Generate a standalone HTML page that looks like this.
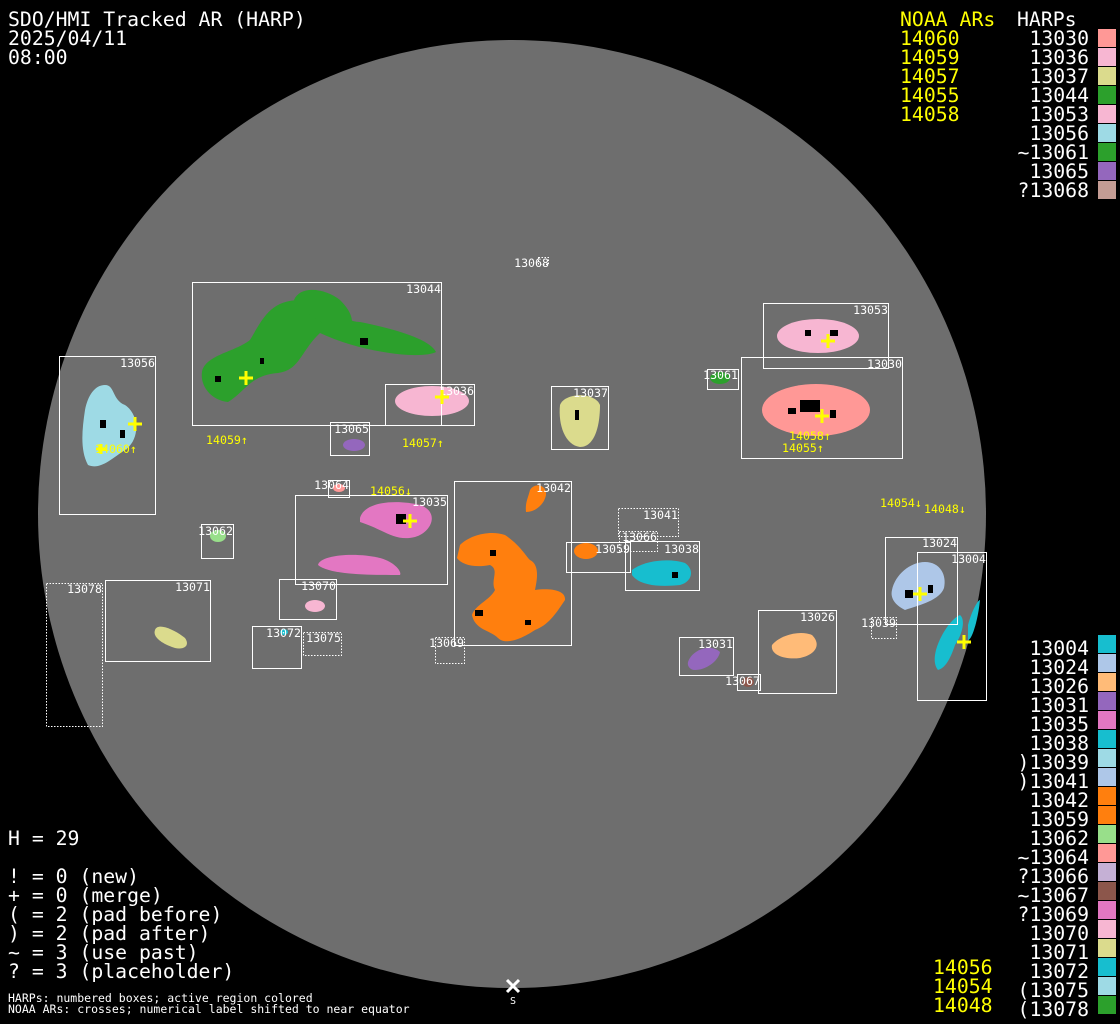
<!DOCTYPE html>
<html><head><meta charset="utf-8"><style>
html,body{margin:0;padding:0;background:#000;}
svg{display:block;font-family:"DejaVu Sans Mono","Liberation Mono",monospace;}
</style></head><body>
<svg width="1120" height="1024" viewBox="0 0 1120 1024" xmlns="http://www.w3.org/2000/svg">
<rect width="1120" height="1024" fill="#000"/>
<circle cx="512" cy="514" r="474" fill="#6e6e6e"/>

<g>
<path d="M202,372 C205,355 235,352 250,340 C262,320 270,300 300,300 C330,296 340,322 360,322 C400,330 430,340 436,352 C420,360 360,352 320,333 C300,352 300,370 278,373 C250,375 245,392 228,402 C210,400 200,385 202,372Z" fill="#2ca02c"/>
<path d="M294,300 C300,285 325,288 340,300 C350,310 355,320 350,330 C330,330 310,318 294,300Z" fill="#2ca02c"/>
<ellipse cx="432" cy="401" rx="37" ry="15" fill="#f7b6d2"/>
<ellipse cx="354" cy="445" rx="11" ry="6" fill="#9467bd"/>
<path d="M85,410 C88,395 95,385 105,385 C115,385 112,400 125,405 C140,415 140,440 125,450 C110,460 100,470 88,465 C80,450 82,430 85,410Z" fill="#9edae5"/>
<path d="M560,405 C565,392 595,392 600,405 C600,425 595,447 580,447 C565,445 558,425 560,405Z" fill="#dbdb8d"/>
<ellipse cx="818" cy="336" rx="41" ry="17" fill="#f7b6d2"/>
<ellipse cx="816" cy="410" rx="54" ry="26" fill="#ff9896"/>
<ellipse cx="720" cy="378" rx="10" ry="6" fill="#2ca02c"/>
<ellipse cx="339" cy="488" rx="6" ry="4" fill="#ff9896"/>
<path d="M360,518 C365,500 400,500 420,505 C440,512 432,532 415,537 C395,542 385,530 360,522Z" fill="#e377c2"/>
<path d="M318,565 C320,555 355,552 380,558 C395,562 402,572 400,575 C370,575 330,575 318,565Z" fill="#e377c2"/>
<path d="M530,490 C535,482 547,485 546,495 C544,505 535,512 526,512 C525,503 528,498 530,490Z" fill="#ff7f0e"/>
<path d="M460,545 C470,535 490,530 505,535 C520,545 525,555 530,560 C540,565 537,580 535,590 C550,588 566,590 565,600 C555,615 548,625 535,630 C520,640 505,645 498,638 C490,630 475,630 472,615 C475,605 490,600 495,590 C490,580 500,570 490,565 C475,568 462,565 457,558Z" fill="#ff7f0e"/>
<ellipse cx="586" cy="551" rx="12" ry="8" fill="#ff7f0e"/>
<path d="M632,570 C645,560 670,558 685,563 C695,570 692,582 680,585 C660,587 640,586 632,575Z" fill="#17becf"/>
<ellipse cx="218" cy="536" rx="8" ry="6" fill="#98df8a"/>
<ellipse cx="315" cy="606" rx="10" ry="6" fill="#f7b6d2"/>
<path d="M155,630 C158,622 175,630 185,638 C190,645 185,650 175,648 C165,645 152,638 155,630Z" fill="#dbdb8d"/>
<ellipse cx="284" cy="632" rx="4" ry="3" fill="#17becf"/>
<path d="M688,662 C692,650 710,643 720,652 C718,662 705,670 695,670 C690,670 687,666 688,662Z" fill="#9467bd"/>
<path d="M772,645 C780,635 800,630 812,635 C822,645 815,655 800,658 C785,660 770,655 772,645Z" fill="#ffbb78"/>
<ellipse cx="748" cy="682" rx="6" ry="5" fill="#8c564b"/>
<path d="M892,590 C895,575 910,562 925,562 C940,562 947,575 944,588 C940,600 920,605 905,610 C895,605 890,598 892,590Z" fill="#aec7e8"/>
<path d="M936,650 C940,635 952,618 960,615 C966,620 962,635 955,645 C950,660 945,668 938,670 C934,665 934,658 936,650Z" fill="#17becf"/>
<path d="M968,625 C972,610 978,600 980,600 C978,620 972,640 968,640Z" fill="#17becf"/>
</g>

<g fill="#000">
<rect x="100" y="420" width="6" height="8"/><rect x="120" y="430" width="5" height="8"/><rect x="360" y="338" width="8" height="7"/><rect x="215" y="376" width="6" height="6"/><rect x="260" y="358" width="4" height="6"/>
<rect x="800" y="400" width="20" height="12"/><rect x="788" y="408" width="8" height="6"/><rect x="830" y="410" width="6" height="8"/><rect x="805" y="330" width="6" height="6"/><rect x="830" y="330" width="8" height="6"/>
<rect x="396" y="514" width="10" height="10"/><rect x="490" y="550" width="6" height="6"/><rect x="475" y="610" width="8" height="6"/><rect x="525" y="620" width="6" height="5"/>
<rect x="905" y="590" width="8" height="8"/><rect x="928" y="585" width="5" height="8"/><rect x="575" y="410" width="4" height="10"/><rect x="672" y="572" width="6" height="6"/>
</g>

<g fill="none" stroke="#fff" stroke-width="1">
<rect x="192.5" y="282.5" width="249" height="143"/>
<rect x="385.5" y="384.5" width="89" height="41"/>
<rect x="330.5" y="422.5" width="39" height="33"/>
<rect x="59.5" y="356.5" width="96" height="158"/>
<rect x="551.5" y="386.5" width="57" height="63"/>
<rect x="763.5" y="303.5" width="125" height="65"/>
<rect x="741.5" y="357.5" width="161" height="101"/>
<rect x="707.5" y="369.5" width="31" height="20"/>
<rect x="328.5" y="480.5" width="21" height="17"/>
<rect x="295.5" y="495.5" width="152" height="89"/>
<rect x="454.5" y="481.5" width="117" height="164"/>
<rect x="201.5" y="524.5" width="32" height="34"/>
<rect x="566.5" y="542.5" width="64" height="30"/>
<rect x="625.5" y="541.5" width="74" height="49"/>
<rect x="105.5" y="580.5" width="105" height="81"/>
<rect x="279.5" y="579.5" width="57" height="40"/>
<rect x="252.5" y="626.5" width="49" height="42"/>
<rect x="679.5" y="637.5" width="54" height="38"/>
<rect x="758.5" y="610.5" width="78" height="83"/>
<rect x="737.5" y="674.5" width="23" height="16"/>
<rect x="885.5" y="537.5" width="72" height="87"/>
<rect x="917.5" y="552.5" width="69" height="148"/>
</g>
<g fill="none" stroke="#fff" stroke-width="1" stroke-dasharray="1.5,1.5">
<rect x="618.5" y="508.5" width="60" height="28"/>
<rect x="619.5" y="531.5" width="38" height="20"/>
<rect x="46.5" y="583.5" width="56" height="143"/>
<rect x="303.5" y="632.5" width="38" height="23"/>
<rect x="435.5" y="637.5" width="29" height="26"/>
<rect x="871.5" y="617.5" width="25" height="21"/>
<rect x="538.5" y="257.5" width="10" height="7"/>
</g>

<g fill="#fff" font-size="11.6" text-anchor="end">
<text x="441" y="293">13044</text><text x="474" y="395">13036</text><text x="369" y="433">13065</text>
<text x="155" y="367">13056</text><text x="608" y="397">13037</text><text x="888" y="314">13053</text>
<text x="902" y="368">13030</text><text x="738" y="379">13061</text><text x="349" y="489">13064</text>
<text x="447" y="506">13035</text><text x="571" y="492">13042</text><text x="233" y="535">13062</text>
<text x="678" y="519">13041</text><text x="657" y="541">13066</text><text x="630" y="553">13059</text>
<text x="699" y="553">13038</text><text x="102" y="593">13078</text><text x="210" y="591">13071</text>
<text x="336" y="590">13070</text><text x="301" y="637">13072</text><text x="341" y="642">13075</text>
<text x="464" y="647">13069</text><text x="733" y="648">13031</text><text x="835" y="621">13026</text>
<text x="760" y="685">13067</text><text x="896" y="627">13039</text><text x="957" y="547">13024</text>
<text x="986" y="563">13004</text><text x="549" y="267">13068</text>
</g>

<g stroke="#ffff00" stroke-width="3">
<path d="M239,378h14M246,371v14"/><path d="M435,397h14M442,390v14"/><path d="M128,424h14M135,417v14"/>
<path d="M821,341h14M828,334v14"/><path d="M815,416h14M822,409v14"/><path d="M403,521h14M410,514v14"/>
<path d="M913,594h14M920,587v14"/><path d="M957,642h14M964,635v14"/><path d="M96,449h10M101,444v10"/>
</g>
<g fill="#ffff00" font-size="11.6">
<text x="206" y="444">14059↑</text><text x="402" y="447">14057↑</text><text x="370" y="495">14056↓</text>
<text x="789" y="440">14058↑</text><text x="782" y="452">14055↑</text><text x="880" y="507">14054↓</text>
<text x="924" y="513">14048↓</text><text x="95" y="453">14060↑</text>
</g>

<path d="M507,980l12,12M519,980l-12,12" stroke="#fff" stroke-width="3"/>
<text x="513" y="1004" fill="#fff" font-size="10" text-anchor="middle">S</text>

<g fill="#fff" font-size="19.8">
<text x="8" y="26">SDO/HMI Tracked AR (HARP)</text>
<text x="8" y="45">2025/04/11</text>
<text x="8" y="64">08:00</text>
</g>
<g font-size="19.8">
<text x="900" y="26" fill="#ffff00">NOAA ARs</text><text x="1017" y="26" fill="#fff">HARPs</text>
<g fill="#ffff00"><text x="900" y="45">14060</text><text x="900" y="64">14059</text><text x="900" y="83">14057</text><text x="900" y="102">14055</text><text x="900" y="121">14058</text></g>
<g fill="#fff" text-anchor="end">
<text x="1089" y="45">13030</text><text x="1089" y="64">13036</text><text x="1089" y="83">13037</text><text x="1089" y="102">13044</text><text x="1089" y="121">13053</text><text x="1089" y="140">13056</text><text x="1089" y="159">~13061</text><text x="1089" y="178">13065</text><text x="1089" y="197">?13068</text>
</g>
</g>
<g>
<rect x="1098" y="29" width="18" height="18" fill="#ff9896"/><rect x="1098" y="48" width="18" height="18" fill="#f7b6d2"/><rect x="1098" y="67" width="18" height="18" fill="#dbdb8d"/><rect x="1098" y="86" width="18" height="18" fill="#2ca02c"/><rect x="1098" y="105" width="18" height="18" fill="#f7b6d2"/><rect x="1098" y="124" width="18" height="18" fill="#9edae5"/><rect x="1098" y="143" width="18" height="18" fill="#2ca02c"/><rect x="1098" y="162" width="18" height="18" fill="#9467bd"/><rect x="1098" y="181" width="18" height="18" fill="#c49c94"/>
</g>

<g font-size="19.8" fill="#fff" text-anchor="end">
<text x="1089" y="655">13004</text><text x="1089" y="674">13024</text><text x="1089" y="693">13026</text><text x="1089" y="712">13031</text><text x="1089" y="731">13035</text><text x="1089" y="750">13038</text><text x="1089" y="769">)13039</text><text x="1089" y="788">)13041</text><text x="1089" y="807">13042</text><text x="1089" y="826">13059</text><text x="1089" y="845">13062</text><text x="1089" y="864">~13064</text><text x="1089" y="883">?13066</text><text x="1089" y="902">~13067</text><text x="1089" y="921">?13069</text><text x="1089" y="940">13070</text><text x="1089" y="959">13071</text><text x="1089" y="978">13072</text><text x="1089" y="997">(13075</text><text x="1089" y="1016">(13078</text>
</g>
<g font-size="19.8" fill="#ffff00"><text x="933" y="974">14056</text><text x="933" y="993">14054</text><text x="933" y="1012">14048</text></g>
<g>
<rect x="1098" y="635" width="18" height="18" fill="#17becf"/><rect x="1098" y="654" width="18" height="18" fill="#aec7e8"/><rect x="1098" y="673" width="18" height="18" fill="#ffbb78"/><rect x="1098" y="692" width="18" height="18" fill="#9467bd"/><rect x="1098" y="711" width="18" height="18" fill="#e377c2"/><rect x="1098" y="730" width="18" height="18" fill="#17becf"/><rect x="1098" y="749" width="18" height="18" fill="#9edae5"/><rect x="1098" y="768" width="18" height="18" fill="#aec7e8"/><rect x="1098" y="787" width="18" height="18" fill="#ff7f0e"/><rect x="1098" y="806" width="18" height="18" fill="#ff7f0e"/><rect x="1098" y="825" width="18" height="18" fill="#98df8a"/><rect x="1098" y="844" width="18" height="18" fill="#ff9896"/><rect x="1098" y="863" width="18" height="18" fill="#c5b0d5"/><rect x="1098" y="882" width="18" height="18" fill="#8c564b"/><rect x="1098" y="901" width="18" height="18" fill="#e377c2"/><rect x="1098" y="920" width="18" height="18" fill="#f7b6d2"/><rect x="1098" y="939" width="18" height="18" fill="#dbdb8d"/><rect x="1098" y="958" width="18" height="18" fill="#17becf"/><rect x="1098" y="977" width="18" height="18" fill="#9edae5"/><rect x="1098" y="996" width="18" height="18" fill="#2ca02c"/>
</g>

<g fill="#fff" font-size="19.8">
<text x="8" y="845">H = 29</text>
<text x="8" y="883">! = 0 (new)</text>
<text x="8" y="902">+ = 0 (merge)</text>
<text x="8" y="921">( = 2 (pad before)</text>
<text x="8" y="940">) = 2 (pad after)</text>
<text x="8" y="959">~ = 3 (use past)</text>
<text x="8" y="978">? = 3 (placeholder)</text>
</g>
<g fill="#fff" font-size="11.5">
<text x="8" y="1002">HARPs: numbered boxes; active region colored</text>
<text x="8" y="1013">NOAA ARs: crosses; numerical label shifted to near equator</text>
</g>
</svg>
</body></html>
